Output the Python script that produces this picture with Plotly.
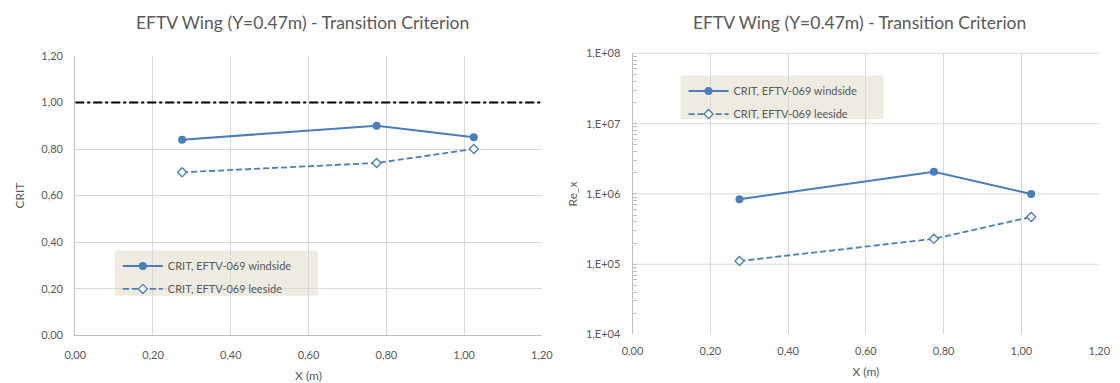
import math
import plotly.graph_objects as go

# Measurement stations along the chord (m)
x_pos = [0.275, 0.775, 1.025]

# Transition criterion values
crit_windside = [0.84, 0.90, 0.85]
crit_leeside = [0.70, 0.74, 0.80]
crit_limit = 1.00

# Local Reynolds numbers
rex_windside = [8.4e5, 2.06e6, 1.0e6]
rex_leeside = [1.11e5, 2.3e5, 4.7e5]

name_wind = "CRIT, EFTV-069 windside"
name_lee = "CRIT, EFTV-069 leeside"
title_text = "EFTV Wing (Y=0.47m) - Transition Criterion"

log_tickvals = [1e4, 1e5, 1e6, 1e7, 1e8]
log_ticktext = ["1,E+04", "1,E+05", "1,E+06", "1,E+07", "1,E+08"]

W, H = 1120, 383
BLUE = "#4a7ebb"
GRID = "#d9d9d9"
AXIS = "#bfbfbf"
TXT = "#595959"
LEG_BG = "#eeece1"
FONT = "Lato"
LOG_MIN, LOG_MAX = 4, 8


def px_x(v):
    return v / W


def px_y(v):
    return 1 - v / H


# minor log ticks (2..9 within each decade), unlabeled
minor_log_ticks = [k * 10 ** d for d in range(LOG_MIN, LOG_MAX) for k in range(2, 10)]
y2_tickvals = log_tickvals + minor_log_ticks
y2_ticktext = log_ticktext + [""] * len(minor_log_ticks)

fig = go.Figure()

# Left panel: CRIT
fig.add_trace(go.Scatter(
    x=[0, 1.2], y=[crit_limit, crit_limit], mode="lines",
    line=dict(color="black", width=2, dash="dashdot"),
    showlegend=False, xaxis="x", yaxis="y", hoverinfo="skip"))
fig.add_trace(go.Scatter(
    x=x_pos, y=crit_windside, mode="lines+markers", name=name_wind,
    line=dict(color=BLUE, width=2),
    marker=dict(symbol="circle", size=8, color=BLUE),
    xaxis="x", yaxis="y", legend="legend", legendgroup="lw"))
fig.add_trace(go.Scatter(
    x=x_pos, y=crit_leeside, mode="lines+markers", name=name_lee,
    line=dict(color=BLUE, width=1.8, dash="6px,3px"),
    marker=dict(symbol="diamond", size=7, color="white",
                line=dict(color=BLUE, width=1.3)),
    xaxis="x", yaxis="y", legend="legend", legendgroup="ll"))

# Right panel: Re_x
fig.add_trace(go.Scatter(
    x=x_pos, y=rex_windside, mode="lines+markers", name=name_wind,
    line=dict(color=BLUE, width=2),
    marker=dict(symbol="circle", size=8, color=BLUE),
    xaxis="x2", yaxis="y2", legend="legend2", legendgroup="rw"))
fig.add_trace(go.Scatter(
    x=x_pos, y=rex_leeside, mode="lines+markers", name=name_lee,
    line=dict(color=BLUE, width=1.8, dash="6px,3px"),
    marker=dict(symbol="diamond", size=7, color="white",
                line=dict(color=BLUE, width=1.3)),
    xaxis="x2", yaxis="y2", legend="legend2", legendgroup="rl"))

tick_font = dict(family=FONT, size=11, color=TXT)
title_font = dict(family=FONT, size=12, color=TXT)

common_x = dict(range=[0, 1.2], dtick=0.2, tick0=0, tickformat=".2f",
                showgrid=True, gridcolor=GRID, gridwidth=1, zeroline=False,
                ticks="", tickfont=tick_font, ticklabelstandoff=9,
                title=dict(text="X (m)", font=title_font, standoff=11))

legend_style = dict(bgcolor="rgba(0,0,0,0)", borderwidth=0,
                    font=dict(family=FONT, size=11, color=TXT),
                    xanchor="left", yanchor="top", itemwidth=40,
                    tracegroupgap=4)

# Legend backgrounds drawn as boxes behind the legend entries
legend_boxes = [(106, 252, 313, 299), (683, 71, 890, 116)]
shapes = [dict(type="rect", xref="paper", yref="paper", layer="below",
               x0=px_x(a), x1=px_x(c), y0=px_y(d), y1=px_y(b),
               fillcolor=LEG_BG, line=dict(width=0))
          for a, b, c, d in legend_boxes]

# Decade gridlines of the log panel
for v in log_tickvals[1:]:
    frac = (math.log10(v) - LOG_MIN) / (LOG_MAX - LOG_MIN)
    shapes.append(dict(type="line", xref="x2 domain", yref="y2 domain",
                       x0=0, x1=1, y0=frac, y1=frac, layer="below",
                       line=dict(color=GRID, width=1)))

fig.update_layout(
    width=W, height=H,
    margin=dict(l=0, r=0, t=0, b=0),
    paper_bgcolor="white", plot_bgcolor="rgba(0,0,0,0)",
    separators=",.",
    showlegend=True,
    xaxis=dict(domain=[px_x(65.5), px_x(541.5)], anchor="y",
               showline=True, linecolor=AXIS, linewidth=1, **common_x),
    yaxis=dict(domain=[px_y(340), px_y(50.5)], anchor="x", range=[0, 1.2],
               dtick=0.2, tickformat=".2f", showgrid=True, gridcolor=GRID,
               zeroline=False, showline=True, linecolor=AXIS, ticks="",
               tickfont=tick_font, ticklabelstandoff=9,
               title=dict(text="CRIT", font=title_font, standoff=14)),
    xaxis2=dict(domain=[px_x(634), px_x(1110)], anchor="y2",
                showline=False, **common_x),
    yaxis2=dict(domain=[px_y(339), px_y(48)], anchor="x2", type="log",
                range=[LOG_MIN, LOG_MAX], tickmode="array",
                tickvals=y2_tickvals, ticktext=y2_ticktext,
                showgrid=False, zeroline=False, showline=True,
                linecolor=AXIS, ticks="inside", ticklen=4, tickcolor=AXIS,
                tickwidth=1, tickfont=tick_font, ticklabelstandoff=9,
                title=dict(text="Re_x", font=title_font, standoff=5)),
    legend=dict(x=px_x(109), y=px_y(253), **legend_style),
    legend2=dict(x=px_x(686), y=px_y(72), **legend_style),
    shapes=shapes,
    annotations=[
        dict(text=title_text, x=px_x(297.5), y=px_y(16), xref="paper",
             yref="paper", showarrow=False, xanchor="center", yanchor="middle",
             font=dict(family=FONT, size=17.5, color=TXT)),
        dict(text=title_text, x=px_x(866), y=px_y(16), xref="paper",
             yref="paper", showarrow=False, xanchor="center", yanchor="middle",
             font=dict(family=FONT, size=17.5, color=TXT)),
    ],
)

fig.write_html("out.html")
